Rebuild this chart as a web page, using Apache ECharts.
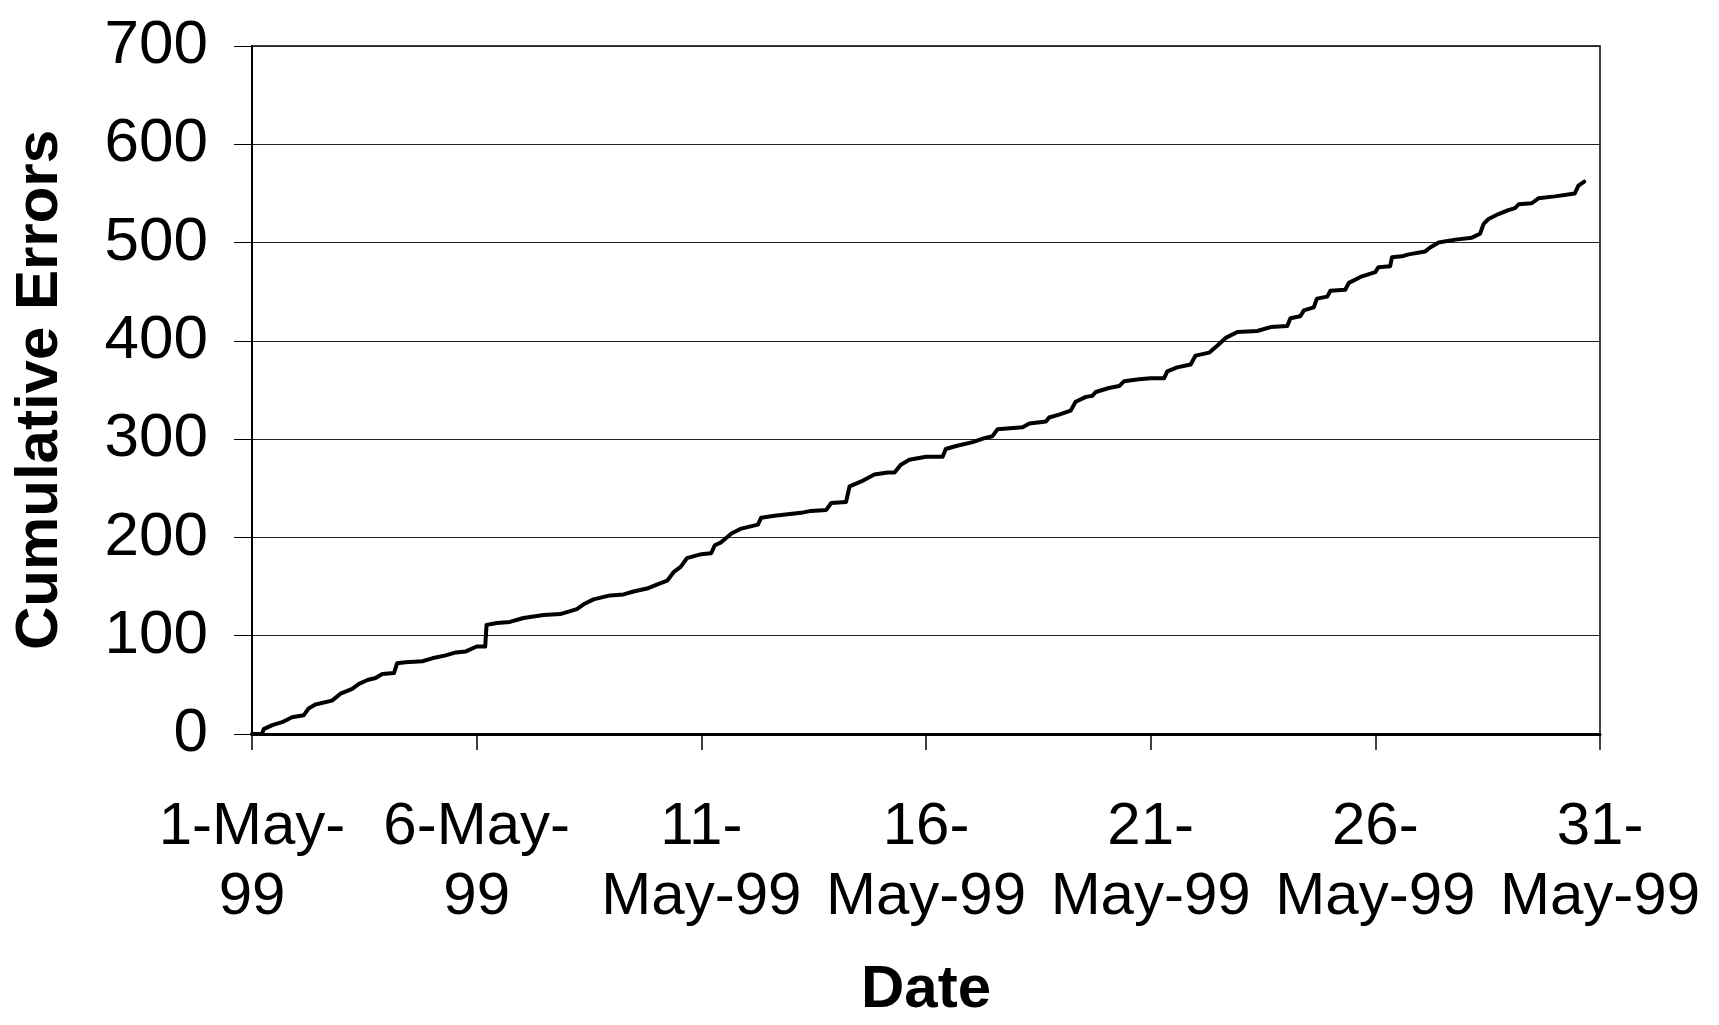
<!DOCTYPE html>
<html>
<head>
<meta charset="utf-8">
<title>Cumulative Errors</title>
<script src="https://cdn.jsdelivr.net/npm/echarts@6/dist/echarts.min.js"></script>
<style>
    html, body { margin: 0; padding: 0; background: #fff; }
    #chart { width: 1719px; height: 1025px; }
</style>
</head>
<body>
<div id="chart"></div>
<script>
// days after 1-May-99 (fractional)
const days = [
    0, 0.22, 0.26, 0.45, 0.67, 0.89, 1.15, 1.26, 1.41, 1.78, 1.97, 2.23, 2.38, 2.57, 2.75, 2.9, 3.16, 3.23, 3.42, 3.79, 4.01, 4.31, 4.54, 4.76,
    5.0, 5.19, 5.22, 5.45, 5.74, 6.04, 6.49, 6.86, 7.01, 7.23, 7.38, 7.6, 7.97, 8.27, 8.49, 8.79, 9.01, 9.24, 9.39, 9.54, 9.68,
    10.0, 10.22, 10.3, 10.44, 10.67, 10.89, 11.26, 11.33, 11.63, 12.22, 12.44, 12.78, 12.89, 13.22, 13.3, 13.56, 13.85, 14.15, 14.3, 14.44, 14.63,
    15.0, 15.37, 15.44, 15.67, 16.04, 16.3, 16.48, 16.59, 17.15, 17.3, 17.67, 17.74, 17.96, 18.22, 18.33, 18.56, 18.7, 18.78, 19.07, 19.3, 19.41, 19.74,
    20.0, 20.3, 20.37, 20.59, 20.89, 21.0, 21.3, 21.48, 21.67, 21.93, 22.37, 22.67, 23.04, 23.11, 23.33, 23.41, 23.63, 23.7, 23.93, 24.0, 24.33, 24.41, 24.67,
    25.0, 25.07, 25.33, 25.37, 25.59, 25.74, 26.11, 26.22, 26.41, 26.78, 27.15, 27.33, 27.41, 27.52, 27.74, 27.96, 28.11, 28.19, 28.48, 28.63, 29.0, 29.44, 29.52, 29.65
]
const errors = [
    0, 0, 5, 9, 12, 17, 19, 26, 30, 34, 41, 46, 51, 55, 57, 61, 62, 72, 73, 74, 77, 80, 83, 84,
    89, 89, 111, 113, 114, 118, 121, 122, 124, 127, 132, 137, 141, 142, 145, 148, 152, 156, 165, 170, 179,
    183, 184, 192, 195, 204, 209, 213, 220, 222, 225, 227, 228, 235, 236, 252, 257, 264, 266, 266, 274, 279,
    282, 282, 290, 293, 297, 301, 303, 310, 312, 316, 318, 322, 325, 329, 338, 343, 344, 348, 352, 354, 359, 361,
    362, 362, 369, 373, 376, 385, 388, 395, 403, 409, 410, 414, 415, 423, 425, 431, 434, 443, 445, 451, 452, 459, 465,
    470, 475, 476, 485, 486, 488, 491, 495, 500, 503, 505, 509, 519, 524, 529, 533, 535, 539, 540, 545, 547, 550, 558, 562
]
const tickLabels = ['1-May-\n99', '6-May-\n99', '11-\nMay-99', '16-\nMay-99', '21-\nMay-99', '26-\nMay-99', '31-\nMay-99']

const font = "'Liberation Sans', Arial, sans-serif"
const chart = echarts.init(document.getElementById('chart'))

const option = {
    animation: false,
    backgroundColor: '#fff',
    grid: {
        left: 252,
        right: 119,
        top: 46,
        bottom: 285,
        show: true,
        borderColor: '#000',
        borderWidth: 1.5,
        backgroundColor: 'transparent'
    },
    xAxis: {
        type: 'value',
        min: 0,
        max: 30,
        interval: 5,
        name: 'Date',
        nameLocation: 'middle',
        nameGap: 226,
        nameTextStyle: { fontFamily: font, fontSize: 60, fontWeight: 'bold', color: '#000', lineHeight: 60 },
        axisLine: { show: true, lineStyle: { color: '#000', width: 3 } },
        axisTick: { show: true, length: 16, lineStyle: { color: '#000', width: 1.5 } },
        axisLabel: {
            margin: 58,
            fontFamily: font,
            fontSize: 60,
            lineHeight: 70,
            color: '#000',
            align: 'center',
            formatter: (value) => tickLabels[Math.round(value / 5)] || ''
        },
        splitLine: { show: false }
    },
    yAxis: {
        type: 'value',
        min: 0,
        max: 700,
        interval: 100,
        name: 'Cumulative Errors',
        nameLocation: 'middle',
        nameGap: 182,
        nameTextStyle: { fontFamily: font, fontSize: 60, fontWeight: 'bold', color: '#000', lineHeight: 60 },
        axisLine: { show: true, lineStyle: { color: '#000', width: 2 } },
        axisTick: { show: true, length: 18, lineStyle: { color: '#000', width: 1 } },
        axisLabel: { margin: 44, fontFamily: font, fontSize: 62, color: '#000' },
        splitLine: { show: true, lineStyle: { color: '#222', width: 1 } }
    },
    series: [
        {
            name: 'Cumulative Errors',
            type: 'line',
            showSymbol: false,
            data: days.map((d, i) => [d, errors[i]]),
            lineStyle: { color: '#000', width: 4, cap: 'round', join: 'round' }
        }
    ]
}

chart.setOption(option)
</script>
</body>
</html>
